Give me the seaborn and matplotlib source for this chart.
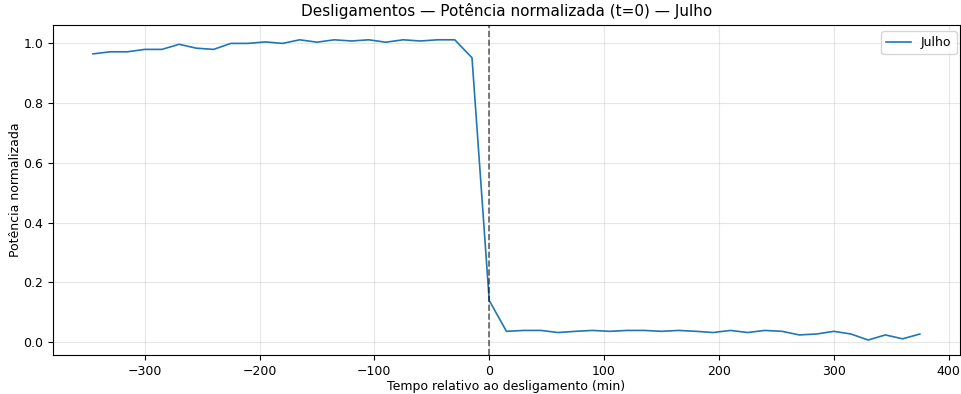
import matplotlib
matplotlib.use("Agg")
import matplotlib.pyplot as plt
import seaborn as sns
import pandas as pd

minutos = list(range(-345, 376, 15))
potencia = [0.963, 0.970, 0.970, 0.978, 0.978, 0.995, 0.982, 0.978, 0.998, 0.998,
            1.003, 0.998, 1.010, 1.002, 1.010, 1.006, 1.010, 1.002, 1.010, 1.006,
            1.010, 1.010, 0.950, 0.140, 0.037, 0.040, 0.040, 0.033, 0.037, 0.040,
            0.037, 0.040, 0.040, 0.037, 0.040, 0.037, 0.033, 0.040, 0.033, 0.040,
            0.037, 0.025, 0.028, 0.037, 0.028, 0.008, 0.025, 0.012, 0.028]
serie = "Julho"

df = pd.DataFrame({"t": minutos, "p": potencia, "mes": serie})

fig, ax = plt.subplots(figsize=(9.61, 3.94), dpi=100)
sns.lineplot(data=df, x="t", y="p", hue="mes", ax=ax, linewidth=1.2,
             palette=["#1f77b4"])
ax.axvline(0, color="black", linestyle="--", alpha=0.6, linewidth=1.2)
ax.grid(True, alpha=0.3)
ax.set_xlim(-380, 410)
ax.set_ylim(-0.042, 1.06)
ax.set_title("Desligamentos — Potência normalizada (t=0) — Julho", fontsize=11)
ax.set_xlabel("Tempo relativo ao desligamento (min)", fontsize=9, labelpad=2)
ax.set_ylabel("Potência normalizada", fontsize=9, labelpad=1)
ax.tick_params(labelsize=9)
ax.legend(loc="upper right", fontsize=9, bbox_to_anchor=(1.003, 1.0))
fig.subplots_adjust(left=0.055, right=0.999, top=0.937, bottom=0.099)
fig.savefig("out.png", dpi=100)
